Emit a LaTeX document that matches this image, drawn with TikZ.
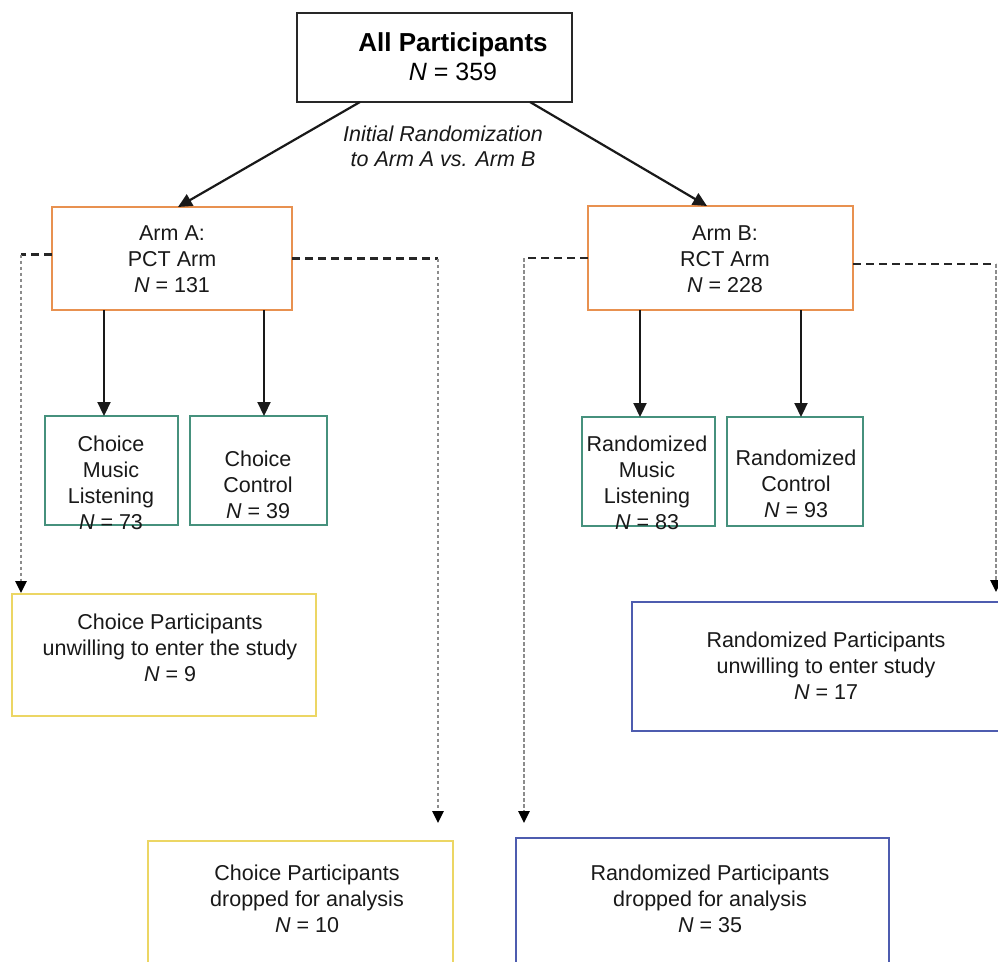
\documentclass[tikz,border=0pt]{standalone}
\usepackage{fontspec}
\setmainfont{Liberation Sans}
\usetikzlibrary{arrows.meta,calc}
\definecolor{armorange}{RGB}{232,145,80}
\definecolor{grpteal}{RGB}{70,145,125}
\definecolor{cyellow}{RGB}{236,214,100}
\definecolor{rblue}{RGB}{78,92,175}
\definecolor{boxdark}{RGB}{40,40,40}
\begin{document}
\begin{tikzpicture}[x=1pt,y=-1pt,
  every node/.style={inner sep=0pt,outer sep=0pt},
  bx/.style={draw,line width=2pt,anchor=north west},
  txt/.style={align=center,font=\fontsize{21.5}{26}\selectfont,text=black!90},
  arr/.style={line width=2.2pt,black!90,-{Triangle[width=13pt,length=14pt]}},
  hdash/.style={line width=2.3pt,dash pattern=on 8pt off 5pt,black!85},
  vdash/.style={line width=2.6pt,dash pattern=on 3.5pt off 2.5pt,black!45,
     -{Triangle[width=11pt,length=12pt,black]}}]
\useasboundingbox (0,0) rectangle (998,961);
\clip (0,0) rectangle (998,961);
\fill[white] (0,0) rectangle (998,961);
% boxes
\node[bx,boxdark,line width=2.6pt,minimum width=275pt,minimum height=89pt] (all) at (297,13) {};
\node[bx,armorange,minimum width=240pt,minimum height=103pt] (armA) at (52,207) {};
\node[bx,armorange,minimum width=265pt,minimum height=104pt] (armB) at (588,206) {};
\node[bx,grpteal,minimum width=133pt,minimum height=109pt] (cml) at (45,416) {};
\node[bx,grpteal,minimum width=137pt,minimum height=109pt] (cc) at (190,416) {};
\node[bx,grpteal,minimum width=133pt,minimum height=109pt] (rml) at (582,417) {};
\node[bx,grpteal,minimum width=136pt,minimum height=109pt] (rc) at (727,417) {};
\node[bx,cyellow,minimum width=304pt,minimum height=122pt] (cu) at (12,594) {};
\node[bx,rblue,minimum width=378pt,minimum height=129pt] (ru) at (632,602) {};
\node[bx,cyellow,minimum width=305pt,minimum height=150pt] (cd) at (148,841) {};
\node[bx,rblue,minimum width=373pt,minimum height=150pt] (rd) at (516,838) {};
% texts
\node[align=center] (allt) at (453,57) {{\fontsize{26}{29}\selectfont\bfseries All Participants}\\[5pt]{\fontsize{25}{29}\selectfont\textit{N} = 359}};
\node[txt,font=\fontsize{21.5}{25}\selectfont\itshape] (lab) at (443,146) {Initial Randomization\\to Arm A vs. Arm B};
\node[txt] (armAt) at (172,259) {Arm A:\\PCT Arm\\\textit{N} = 131};
\node[txt] (armBt) at (725,259) {Arm B:\\RCT Arm\\\textit{N} = 228};
\node[txt] (cmlt) at (111,483) {Choice\\Music\\Listening\\\textit{N} = 73};
\node[txt] (cct) at (258,485) {Choice\\Control\\\textit{N} = 39};
\node[txt] (rmlt) at (647,483) {Randomized\\Music\\Listening\\\textit{N} = 83};
\node[txt] (rct) at (796,484) {Randomized\\Control\\\textit{N} = 93};
\node[txt] (cut) at (170,648) {Choice Participants\\unwilling to enter the study\\\textit{N} = 9};
\node[txt] (rut) at (826,666) {Randomized Participants\\unwilling to enter study\\\textit{N} = 17};
\node[txt] (cdt) at (307,899) {Choice Participants\\dropped for analysis\\\textit{N} = 10};
\node[txt] (rdt) at (710,899) {Randomized Participants\\dropped for analysis\\\textit{N} = 35};
% solid arrows
\draw[arr] ($(all.south west)+(63,0)$) -- ($(armA.north west)+(126,0)$);
\draw[arr] ($(all.south east)+(-42,0)$) -- ($(armB.north west)+(119,0)$);
\coordinate (a1) at ($(armA.south west)+(52,0)$);
\coordinate (a2) at ($(armA.south west)+(212,0)$);
\coordinate (b1) at ($(armB.south west)+(52,0)$);
\coordinate (b2) at ($(armB.south west)+(213,0)$);
\draw[arr] (a1) -- (a1 |- cml.north);
\draw[arr] (a2) -- (a2 |- cc.north);
\draw[arr] (b1) -- (b1 |- rml.north);
\draw[arr] (b2) -- (b2 |- rc.north);
% dashed connectors
\coordinate (pA1) at ($(armA.west)+(0,-4)$);
\coordinate (c1) at ($(cu.north west)+(9,-1)$);
\draw[hdash] (pA1) -- (pA1 -| c1);
\draw[vdash] (pA1 -| c1) -- (c1);
\coordinate (pA2) at ($(armA.east)+(0,0)$);
\coordinate (c2) at ($(cd.north west)+(290,-18)$);
\draw[hdash] (pA2) -- (pA2 -| c2);
\draw[vdash] (pA2 -| c2) -- (c2);
\coordinate (pB1) at ($(armB.west)+(0,0)$);
\coordinate (c3) at ($(rd.north west)+(8,-15)$);
\draw[hdash] (pB1) -- (pB1 -| c3);
\draw[vdash] (pB1 -| c3) -- (c3);
\coordinate (pB2) at ($(armB.east)+(0,6)$);
\coordinate (c4) at ($(ru.north west)+(364,-10)$);
\draw[hdash] (pB2) -- (pB2 -| c4);
\draw[vdash] (pB2 -| c4) -- (c4);
\end{tikzpicture}
\end{document}
